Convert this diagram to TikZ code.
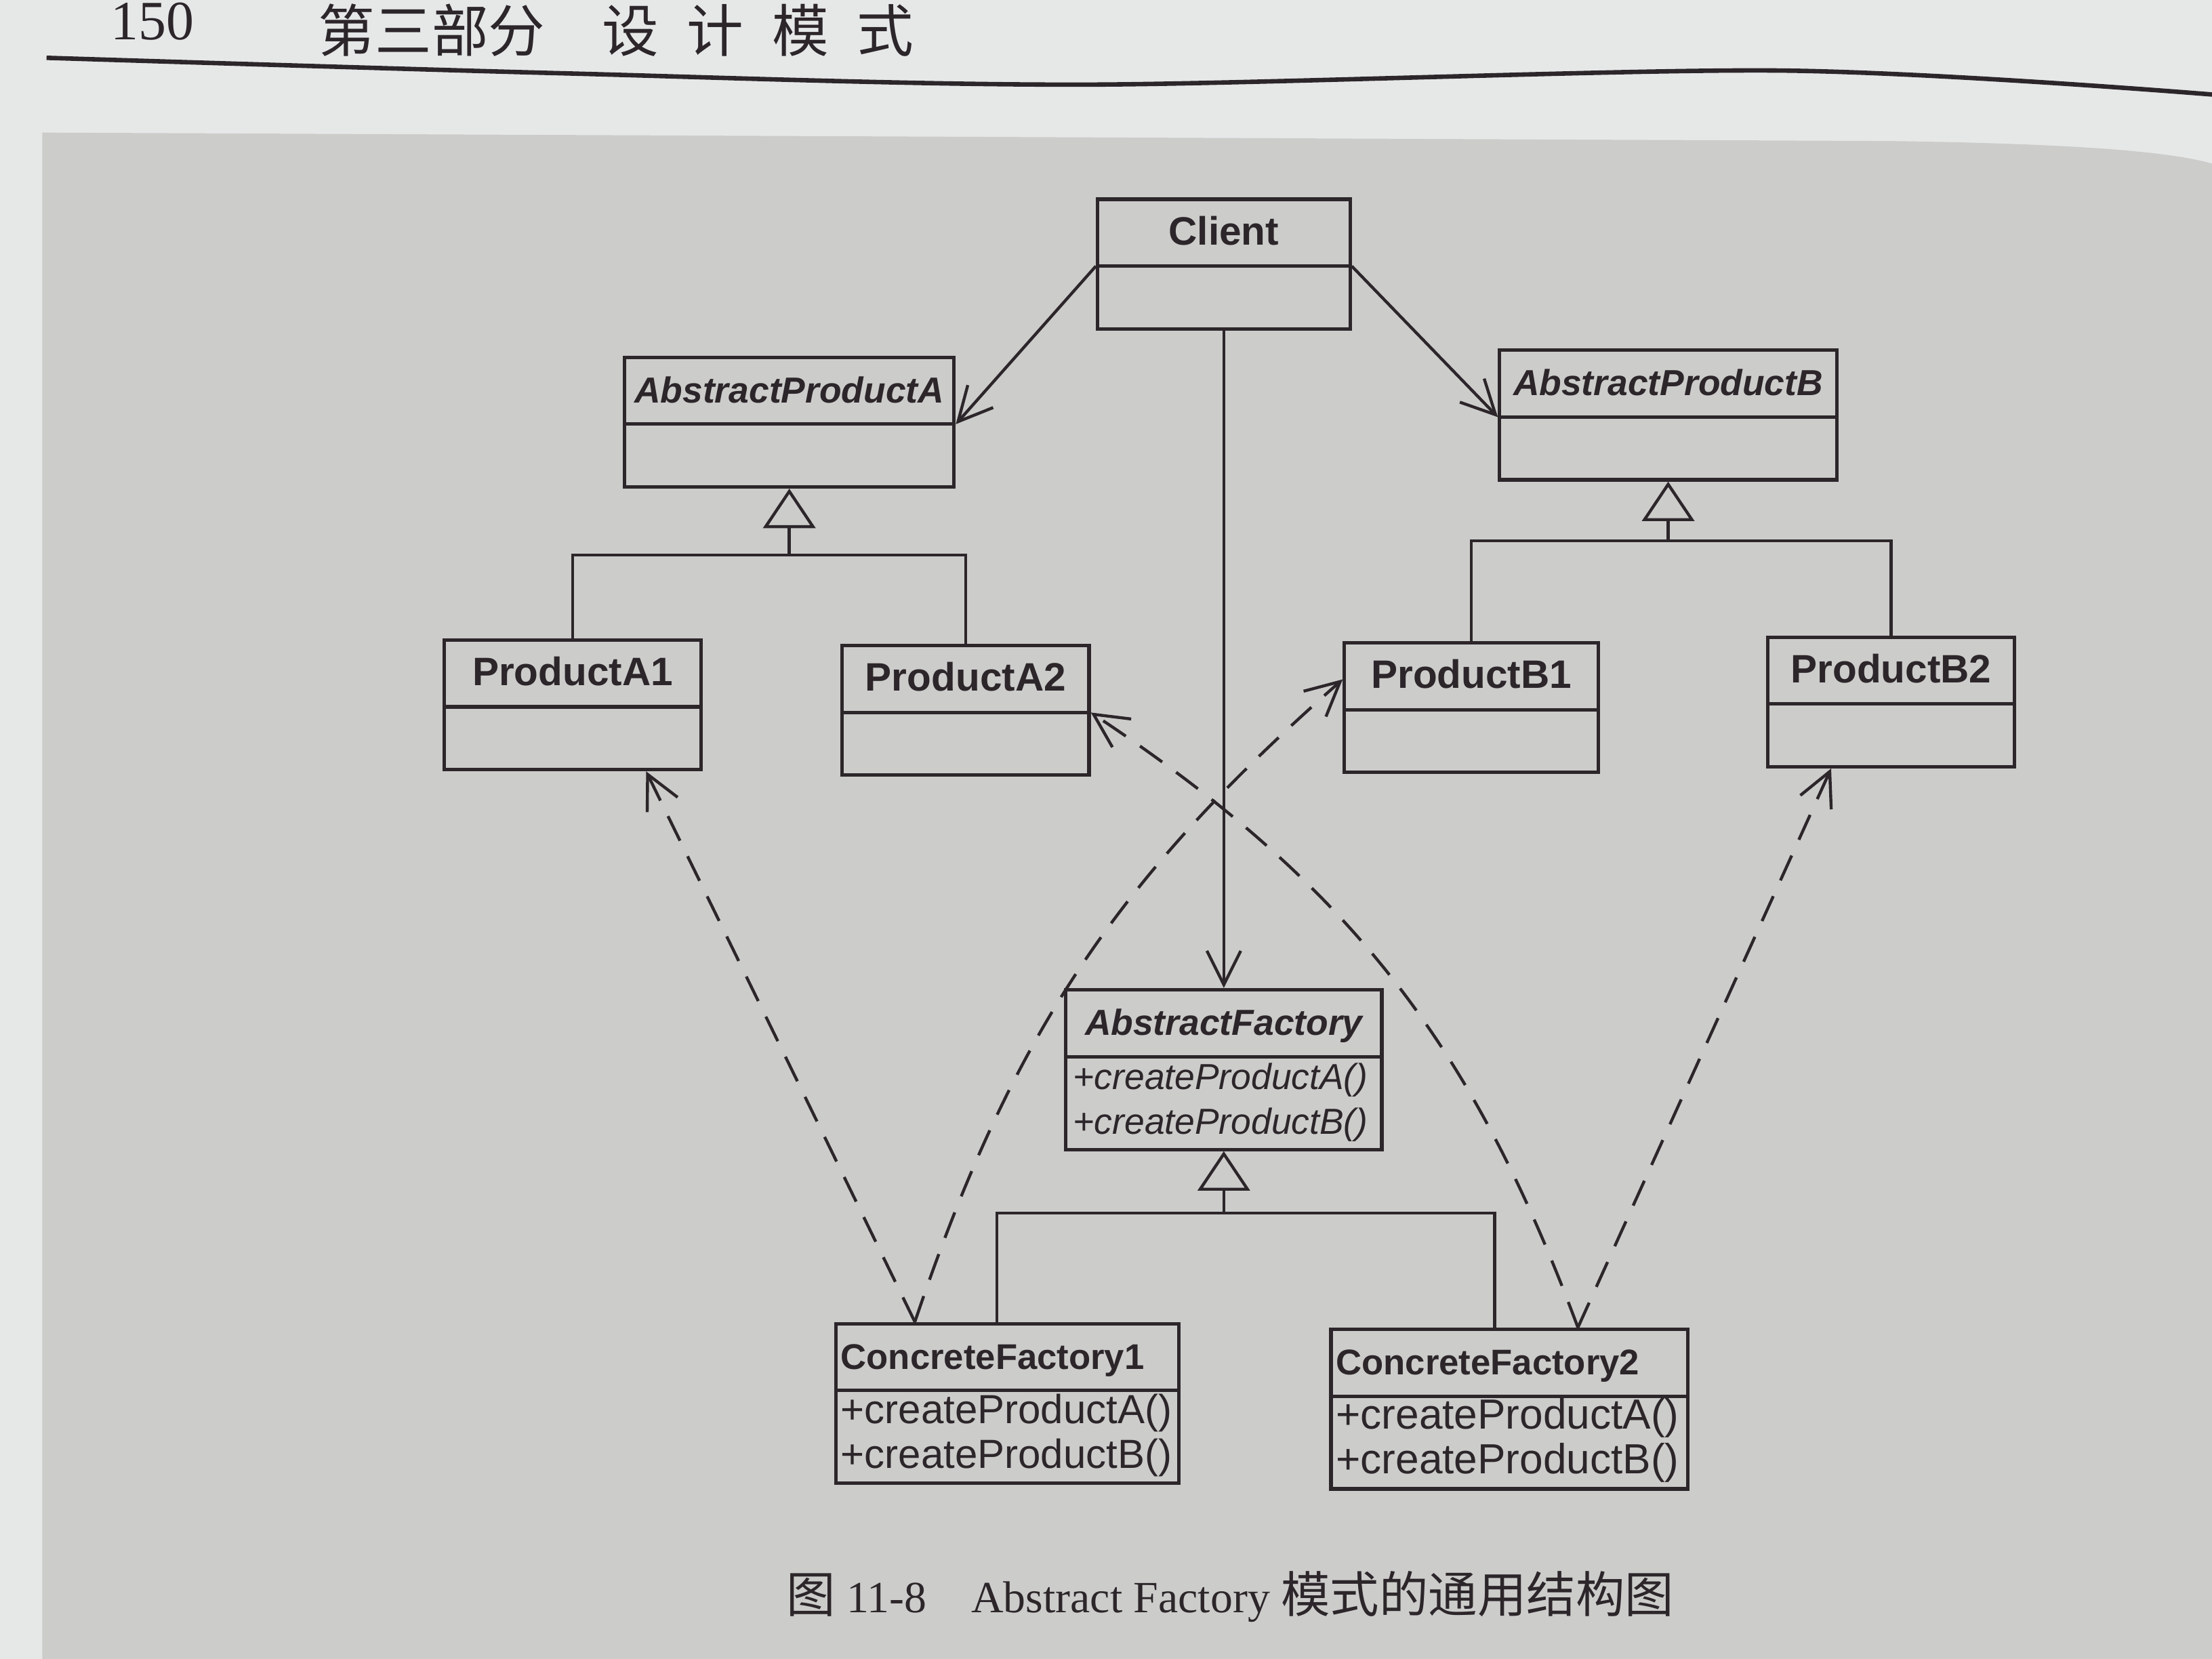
\documentclass[tikz,border=0pt]{standalone}
\usepackage{fontspec}
\setmainfont{Liberation Serif}
\setsansfont{Liberation Sans}
\newfontfamily\cjk{Noto Sans CJK SC}[Scale=1.1]
\usetikzlibrary{shapes,arrows,arrows.meta,positioning}
\definecolor{pagebg}{RGB}{230,232,232}
\definecolor{panelbg}{RGB}{204,204,202}
\definecolor{ink}{RGB}{44,38,42}
\newcommand{\namestrut}{\rule[-0.14cm]{0pt}{0.45cm}}
\newcommand{\emptystrut}{\rule{0pt}{0.42cm}}
\newcommand{\methtop}{\rule[-0.09cm]{0pt}{0.31cm}}
\newcommand{\methbot}{\rule[-0.08cm]{0pt}{0.08cm}}
\tikzstyle{umlclass} = [rectangle split, rectangle split parts=2, draw=ink,
    line width=0.7pt, text=ink, inner xsep=2pt, inner ysep=0pt,
    font=\sffamily\bfseries\fontsize{8}{9}\selectfont]
\tikzstyle{abstractclass} = [umlclass,
    font=\sffamily\bfseries\itshape\fontsize{7.3}{9}\selectfont]
\tikzstyle{factory} = [umlclass, inner xsep=1pt, rectangle split part align={left,left},
    font=\sffamily\bfseries\fontsize{7.2}{9}\selectfont]
\tikzstyle{assoc} = [draw=ink, line width=0.6pt, -{Straight Barb[length=2.4mm,width=2.4mm]}]
\tikzstyle{depend} = [assoc, dash pattern=on 5.5pt off 3.5pt]
\tikzstyle{inherit} = [draw=ink, line width=0.6pt, -{Triangle[open,length=2.8mm,width=3.7mm]}]
\tikzstyle{tree} = [draw=ink, line width=0.6pt]

\begin{document}
\begin{tikzpicture}
    \useasboundingbox (0,0) rectangle (15.68,-11.76);
    % Page and figure panel
    \fill [pagebg] (0,0) rectangle (15.68,-11.76);
    \fill [panelbg] (0.30,-0.94) -- (13.4,-1.00) .. controls (14.8,-1.02) and (15.4,-1.08) .. (15.68,-1.16)
        -- (15.68,-11.76) -- (0.30,-11.76) -- cycle;
    \draw [ink, line width=0.9pt] plot [smooth] coordinates
        {(0.33,-0.41) (4.0,-0.52) (7.69,-0.60) (12.6,-0.50) (15.68,-0.67)};
    \node [anchor=base west, inner sep=0pt, text=ink, font=\fontsize{11.2}{12}\selectfont]
        (pagenum) at (0.78,-0.28) {150};
    \node [anchor=base west, inner sep=0pt, text=ink, font=\cjk\fontsize{10.4}{12}\selectfont]
        (parttitle) at (2.25,-0.37) {第三部分\quad 设\enspace 计\enspace 模\enspace 式};
    % Place nodes
    \node [umlclass, minimum width=1.79cm, anchor=north] (client) at (8.675,-1.40)
        {\namestrut Client \nodepart{two}\emptystrut};
    \node [abstractclass, minimum width=2.33cm, anchor=north] (absA) at (5.595,-2.52)
        {\namestrut AbstractProductA \nodepart{two}\emptystrut};
    \node [abstractclass, minimum width=2.39cm, anchor=north] (absB) at (11.825,-2.47)
        {\namestrut AbstractProductB \nodepart{two}\emptystrut};
    \node [umlclass, minimum width=1.82cm, below=1.06cm of absA, xshift=-1.535cm] (pa1)
        {\namestrut ProductA1 \nodepart{two}\emptystrut};
    \node [umlclass, minimum width=1.75cm, below=1.10cm of absA, xshift=1.25cm] (pa2)
        {\namestrut ProductA2 \nodepart{two}\emptystrut};
    \node [umlclass, minimum width=1.80cm, below=1.13cm of absB, xshift=-1.395cm] (pb1)
        {\namestrut ProductB1 \nodepart{two}\emptystrut};
    \node [umlclass, minimum width=1.75cm, below=1.09cm of absB, xshift=1.58cm] (pb2)
        {\namestrut ProductB2 \nodepart{two}\emptystrut};
    \node [abstractclass, minimum width=2.24cm, inner xsep=1.5pt, rectangle split part align={center,left},
        below=4.66cm of client] (af)
        {\namestrut AbstractFactory \nodepart{two}\mdseries\fontsize{7.3}{9}\selectfont
         \begin{tabular}{@{}l@{}}\methtop +createProductA()\\ \methbot +createProductB()\end{tabular}};
    \node [factory, minimum width=2.43cm, below=1.21cm of af, xshift=-1.535cm] (cf1)
        {\namestrut ConcreteFactory1 \nodepart{two}\mdseries\fontsize{8.2}{9}\selectfont
         \begin{tabular}{@{}l@{}}\methtop +createProductA()\\ \methbot +createProductB()\end{tabular}};
    \node [factory, minimum width=2.53cm, below=1.25cm of af, xshift=2.025cm] (cf2)
        {\namestrut ConcreteFactory2 \nodepart{two}\mdseries\fontsize{8.5}{9}\selectfont
         \begin{tabular}{@{}l@{}}\methtop +createProductA()\\ \methbot +createProductB()\end{tabular}};
    \node [anchor=base, inner sep=0pt, text=ink, font=\fontsize{9}{11}\selectfont] (caption) at (8.72,-11.43)
        {{\cjk 图} 11-8\quad Abstract Factory {\cjk 模式的通用结构图}};
    % Draw edges
    \path [assoc] (client.text split west) -- (absA.text split east);
    \path [assoc] (client.text split east) -- (absB.text split west);
    \path [assoc] (client.south) -- (af.north);
    \coordinate (forkA) at ([yshift=-0.47cm]absA.south);
    \coordinate (forkB) at ([yshift=-0.42cm]absB.south);
    \coordinate (forkF) at ([yshift=-0.44cm]af.south);
    \path [inherit] (forkA) -- (absA.south);
    \path [tree] (pa1.north) |- (forkA) -| (pa2.north);
    \path [inherit] (forkB) -- (absB.south);
    \path [tree] (pb1.north) |- (forkB) -| (pb2.north);
    \path [inherit] (forkF) -- (af.south);
    \path [tree] ([xshift=-0.075cm]cf1.north) |- (forkF) -| ([xshift=-0.105cm]cf2.north);
    \coordinate (cf1top) at ([xshift=-0.655cm]cf1.north);
    \coordinate (cf2top) at ([xshift=0.485cm]cf2.north);
    \path [depend] (cf1top) -- ([xshift=0.52cm]pa1.south);
    \path [depend] (cf1top) to [bend left=15] ([yshift=0.2cm]pb1.west);
    \path [depend] (cf2top) to [bend right=18] (pa2.text split east);
    \path [depend] (cf2top) -- ([xshift=-0.425cm]pb2.south);
\end{tikzpicture}
\end{document}
